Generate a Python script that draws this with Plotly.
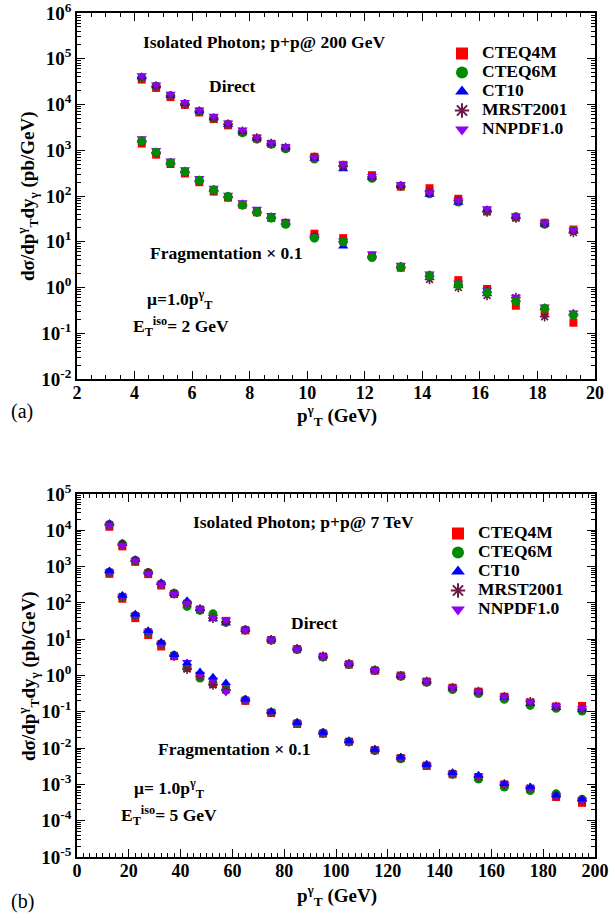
import plotly.graph_objects as go

# ---------------- data ----------------
pdf_names = ["CTEQ4M", "CTEQ6M", "CT10", "MRST2001", "NNPDF1.0"]

# panel (a): p+p @ 200 GeV
pt_a = [4.25, 4.75, 5.25, 5.75, 6.25, 6.75, 7.25, 7.75, 8.25, 8.75, 9.25,
        10.25, 11.25, 12.25, 13.25, 14.25, 15.25, 16.25, 17.25, 18.25, 19.25]

dir_a_cteq4m = [35000, 23000, 14500, 9800, 6700, 4800, 3500, 2500, 1800, 1380, 1120,
                720, 480, 285, 160, 148, 87, 46, 34, 26, 18.5]
dir_a_cteq6m = [38000, 25000, 15500, 10300, 7000, 5000, 3700, 2400, 1750, 1350, 1080,
                640, 470, 245, 165, 112, 74, 48, 35, 24, 17.5]
dir_a_ct10 = [40000, 25500, 15800, 10500, 7200, 5100, 3600, 2550, 1800, 1380, 1150,
              660, 390, 250, 168, 108, 72, 50, 35, 24, 17]
dir_a_mrst = [39000, 25000, 15500, 10200, 7100, 5000, 3700, 2600, 1850, 1400, 1150,
              700, 450, 260, 165, 125, 80, 45, 33, 25, 16]
dir_a_nnpdf = [43000, 27000, 17000, 11200, 7700, 5600, 4000, 2800, 1950, 1450, 1200,
               700, 500, 270, 180, 120, 80, 53, 37, 26, 18]

frag_a_cteq4m = [1400, 800, 500, 310, 200, 125, 92, 64, 44, 33, 26,
                 15, 12, 5.0, 2.7, 1.8, 1.45, 0.93, 0.40, 0.28, 0.17]
frag_a_cteq6m = [1600, 900, 530, 340, 220, 135, 97, 63, 44, 33, 24,
                 12, 10, 4.5, 2.8, 1.8, 1.15, 0.78, 0.50, 0.35, 0.25]
frag_a_ct10 = [1650, 920, 540, 350, 225, 140, 100, 66, 46, 35, 26,
               13.5, 8, 4.8, 2.9, 1.9, 1.2, 0.85, 0.55, 0.36, 0.27]
frag_a_mrst = [1600, 880, 520, 330, 215, 130, 95, 65, 45, 34, 25,
               13, 10, 4.8, 2.8, 1.5, 1.0, 0.67, 0.60, 0.23, 0.26]
frag_a_nnpdf = [1800, 1000, 590, 380, 245, 150, 105, 72, 52, 38, 27,
                13, 10.5, 5.5, 3.1, 2.0, 1.25, 0.88, 0.62, 0.38, 0.28]

# panel (b): p+p @ 7 TeV
pt_b = [12.5, 17.5, 22.5, 27.5, 32.5, 37.5, 42.5, 47.5, 52.5, 57.5, 65, 75,
        85, 95, 105, 115, 125, 135, 145, 155, 165, 175, 185, 195]

dir_b_cteq4m = [12500, 3600, 1350, 620, 300, 175, 95, 65, 45, 32, 17.5, 9.5,
                5.3, 3.3, 2.0, 1.35, 1.0, 0.68, 0.46, 0.36, 0.26, 0.18, 0.14, 0.145]
dir_b_cteq6m = [14500, 4200, 1500, 690, 330, 185, 80, 62, 50, 29, 18, 9.4,
                5.2, 3.2, 2.0, 1.4, 0.95, 0.65, 0.41, 0.32, 0.22, 0.15, 0.125, 0.105]
dir_b_ct10 = [15500, 4400, 1550, 700, 360, 180, 115, 70, 36, 28, 18.5, 9.8,
              5.5, 3.4, 2.1, 1.4, 0.98, 0.68, 0.45, 0.35, 0.25, 0.17, 0.13, 0.115]
dir_b_mrst = [14000, 3900, 1450, 670, 330, 180, 95, 67, 38, 30, 18, 9.6,
              5.4, 3.4, 2.1, 1.4, 0.98, 0.68, 0.46, 0.36, 0.26, 0.19, 0.14, 0.12]
dir_b_nnpdf = [13500, 3800, 1450, 650, 320, 175, 98, 68, 40, 34, 18, 9.7,
               5.4, 3.4, 2.1, 1.4, 1.0, 0.70, 0.47, 0.37, 0.26, 0.19, 0.145, 0.125]

frag_b_cteq4m = [630, 130, 38, 13, 6.3, 3.4, 1.6, 0.95, 0.58, 0.42, 0.20, 0.092,
                 0.046, 0.025, 0.015, 0.0088, 0.0053, 0.0032, 0.0019, 0.0016, 0.0010, 0.00075, 0.00045, 0.00031]
frag_b_cteq6m = [700, 145, 44, 15, 7.4, 3.6, 1.7, 0.85, 0.62, 0.40, 0.21, 0.096,
                 0.048, 0.026, 0.0148, 0.0085, 0.0051, 0.0033, 0.0019, 0.0014, 0.00085, 0.00068, 0.00055, 0.00039]
frag_b_ct10 = [760, 160, 49, 17, 8.2, 3.7, 2.2, 1.25, 0.90, 0.62, 0.22, 0.10,
               0.050, 0.027, 0.0156, 0.0091, 0.0056, 0.0035, 0.0021, 0.0018, 0.00105, 0.00085, 0.00050, 0.00039]
frag_b_mrst = [700, 150, 45, 16, 7.6, 3.5, 1.5, 0.95, 0.55, 0.40, 0.21, 0.097,
               0.049, 0.026, 0.0152, 0.0090, 0.0054, 0.0034, 0.0020, 0.0016, 0.0010, 0.00080, 0.00048, 0.00036]
frag_b_nnpdf = [720, 150, 46, 16, 7.5, 3.3, 2.3, 1.1, 0.75, 0.35, 0.21, 0.098,
                0.049, 0.026, 0.0153, 0.0090, 0.0055, 0.0034, 0.0020, 0.0017, 0.00102, 0.00080, 0.00049, 0.00037]

# ---------------- style ----------------
W, H = 610, 913
FONT = "Liberation Serif, Times New Roman, serif"
styles = {
    "CTEQ4M": dict(symbol="square", color="#ff0000", size=8),
    "CTEQ6M": dict(symbol="circle", color="#008c00", size=9),
    "CT10": dict(symbol="triangle-up", color="#0000ff", size=9),
    "MRST2001": dict(symbol="asterisk-open", color="#6e1848", size=8),
    "NNPDF1.0": dict(symbol="triangle-down", color="#9000f0", size=9),
}

def px(x):
    return x / W

def py(y):
    return 1 - y / H

fig = go.Figure()

def add(name, xs, ys, xa, ya, legend, show, order):
    st = styles[name]
    marker = dict(symbol=st["symbol"], size=st["size"], color=st["color"])
    if "asterisk" in st["symbol"]:
        marker["line"] = dict(color=st["color"], width=1.6)
    fig.add_trace(go.Scatter(
        x=xs, y=ys, mode="markers",
        name='<span style="font-size:17.5px">%s</span>' % name,
        marker=marker, xaxis=xa, yaxis=ya, legend=legend, showlegend=show,
        legendgroup=legend + name, legendrank=order, cliponaxis=False))

dir_a = dict(zip(pdf_names, [dir_a_cteq4m, dir_a_cteq6m, dir_a_ct10, dir_a_mrst, dir_a_nnpdf]))
frag_a = dict(zip(pdf_names, [frag_a_cteq4m, frag_a_cteq6m, frag_a_ct10, frag_a_mrst, frag_a_nnpdf]))
dir_b = dict(zip(pdf_names, [dir_b_cteq4m, dir_b_cteq6m, dir_b_ct10, dir_b_mrst, dir_b_nnpdf]))
frag_b = dict(zip(pdf_names, [frag_b_cteq4m, frag_b_cteq6m, frag_b_ct10, frag_b_mrst, frag_b_nnpdf]))

for i, n in enumerate(pdf_names):
    add(n, pt_a, dir_a[n], "x", "y", "legend", True, i + 1)
for n in ["CTEQ4M", "CT10", "MRST2001", "NNPDF1.0", "CTEQ6M"]:
    add(n, pt_a, frag_a[n], "x", "y", "legend", False, 100)
for i, n in enumerate(pdf_names):
    add(n, pt_b, dir_b[n], "x2", "y2", "legend2", True, i + 1)
for n in ["CTEQ4M", "CTEQ6M", "MRST2001", "NNPDF1.0", "CT10"]:
    add(n, pt_b, frag_b[n], "x2", "y2", "legend2", False, 100)

# ---------------- axes ----------------
def sup_label(e):
    return "10<sup>%d</sup>" % e

ya_exps = list(range(-2, 7))
yb_exps = list(range(-5, 6))

def log_minor(exps):
    return [m * 10.0 ** e for e in exps[:-1] for m in range(2, 10)]

axis_common = dict(showline=True, linecolor="black", linewidth=1.5, mirror="allticks",
                   ticks="inside", tickcolor="black", tickwidth=1.2, ticklen=8,
                   showgrid=False, zeroline=False, automargin=False,
                   ticklabeloverflow="allow")
xfont = dict(family=FONT, size=18, color="black", weight="bold")
yfont = dict(family=FONT, size=19, color="black", weight="bold")
minor_lin = dict(ticks="inside", ticklen=4, tickcolor="black", tickwidth=1, showgrid=False)

dom_x = [px(77), px(595)]
fig.update_layout(
    xaxis=dict(domain=dom_x, anchor="y", range=[2, 20], tickmode="linear", tick0=2, dtick=2,
               minor=dict(dtick=0.5, **minor_lin), tickfont=xfont,
               ticklabelstandoff=-3, **axis_common),
    yaxis=dict(domain=[py(379), py(13)], anchor="x", type="log", range=[-2, 6],
               tickmode="array", tickvals=[10.0 ** e for e in ya_exps],
               ticktext=[sup_label(e) for e in ya_exps],
               minor=dict(tickvals=log_minor(ya_exps), **minor_lin),
               tickfont=yfont, **axis_common),
    xaxis2=dict(domain=dom_x, anchor="y2", range=[0, 200], tickmode="linear", tick0=0, dtick=20,
                minor=dict(dtick=2.5, **minor_lin), tickfont=xfont,
                ticklabelstandoff=-3, **axis_common),
    yaxis2=dict(domain=[py(857), py(494)], anchor="x2", type="log", range=[-5, 5],
                tickmode="array", tickvals=[10.0 ** e for e in yb_exps],
                ticktext=[sup_label(e) for e in yb_exps],
                minor=dict(tickvals=log_minor(yb_exps), **minor_lin),
                tickfont=yfont, **axis_common),
)

legend_common = dict(font=dict(family=FONT, size=12, color="black", weight="bold"),
                     bgcolor="rgba(0,0,0,0)", borderwidth=0, itemsizing="constant",
                     tracegroupgap=0, xanchor="left", yanchor="top", traceorder="normal")
fig.update_layout(
    legend=dict(x=px(442), y=py(39), **legend_common),
    legend2=dict(x=px(438), y=py(519), **legend_common),
)

# ---------------- annotations ----------------
def text(x, y, s, size=17.5, xanchor="left", angle=0, weight="bold"):
    fig.add_annotation(x=px(x), y=py(y), xref="paper", yref="paper", text=s,
                       showarrow=False, xanchor=xanchor, yanchor="middle",
                       textangle=angle,
                       font=dict(family=FONT, size=size, color="black", weight=weight))

# panel (a)
text(141, 42, "Isolated Photon; p+p@ 200 GeV")
text(207, 86, "Direct")
text(148, 253, "Fragmentation \u00d7 0.1")
text(145, 300, "\u03bc=1.0p<sup>\u03b3</sup><sub>T</sub>")
text(131, 327, "E<sub>T</sub><sup>iso</sup>= 2 GeV")
# panel (b)
text(191, 522, "Isolated Photon; p+p@ 7 TeV")
text(289, 623, "Direct")
text(156, 749, "Fragmentation \u00d7 0.1")
text(132, 788, "\u03bc= 1.0p<sup>\u03b3</sup><sub>T</sub>")
text(119, 815, "E<sub>T</sub><sup>iso</sup>= 5 GeV")

# axis titles
ytitle = "d\u03c3/dp<sup>\u03b3</sup><sub>T</sub>dy<sub>\u03b3</sub> (pb/GeV)"
xtitle = "p<sup>\u03b3</sup><sub>T</sub> (GeV)"
text(28, 196, ytitle, 19, xanchor="center", angle=-90)
text(28, 676, ytitle, 19, xanchor="center", angle=-90)
text(337, 415, xtitle, 19, xanchor="center")
text(337, 895, xtitle, 19, xanchor="center")

text(9, 411, "(a)", 20, weight="normal")
text(9, 901, "(b)", 20, weight="normal")

fig.update_layout(template="none", width=W, height=H, margin=dict(l=0, r=0, t=0, b=0),
                  paper_bgcolor="white", plot_bgcolor="white",
                  font=dict(family=FONT, color="black"))

# remove the browser's default 8px body margin so the figure fills the window
fig.write_html("out.html", config={"displayModeBar": False},
               post_script="document.body.style.margin='0';document.body.style.overflow='hidden';")
